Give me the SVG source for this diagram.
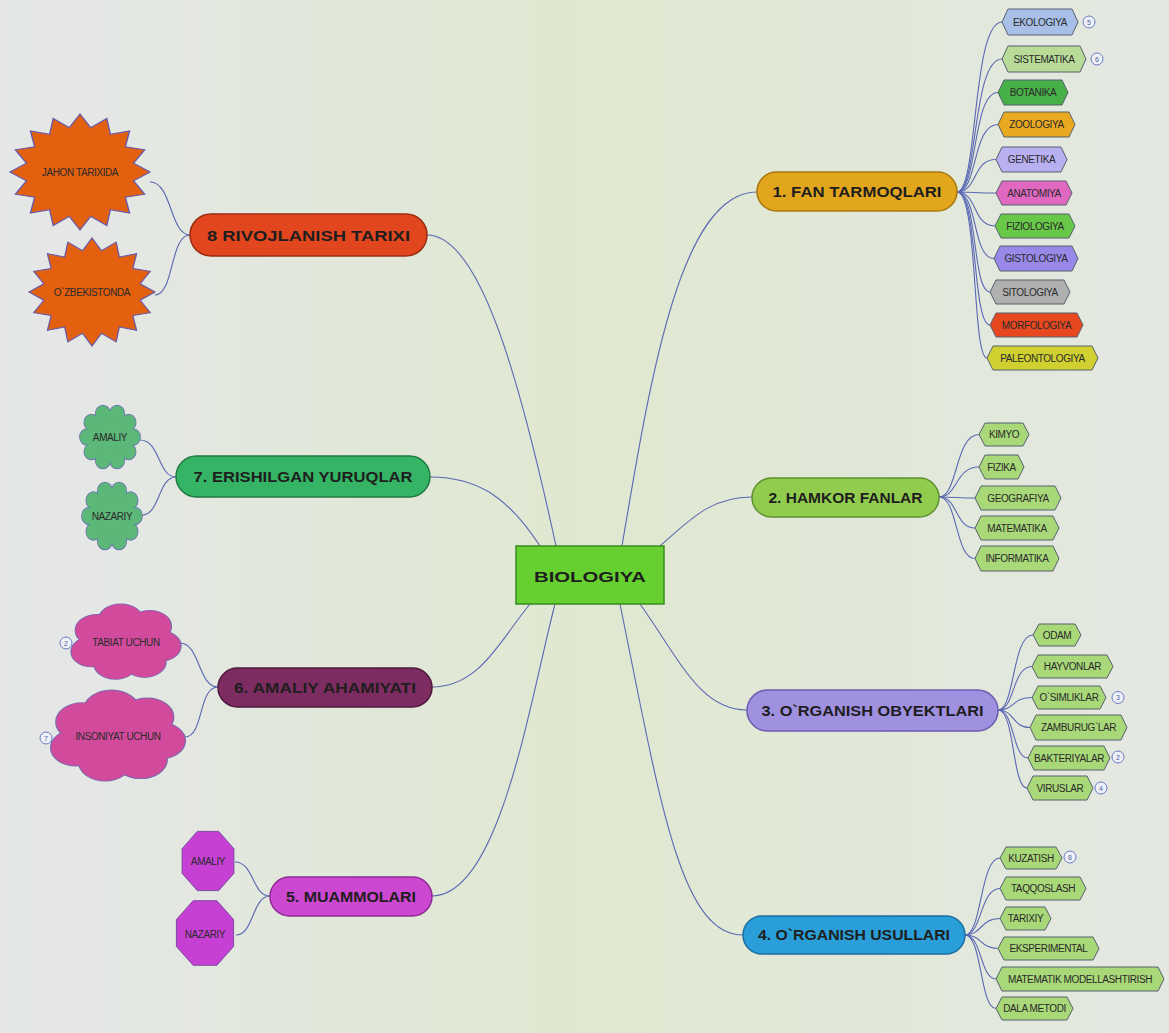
<svg xmlns="http://www.w3.org/2000/svg" xmlns:xlink="http://www.w3.org/1999/xlink" width="1169" height="1033" viewBox="0 0 1169 1033">
<defs>
<linearGradient id="bg" x1="0" y1="0" x2="1" y2="0">
<stop offset="0" stop-color="#e5e7e8"/>
<stop offset="0.5" stop-color="#e0e8d0"/>
<stop offset="1" stop-color="#e4e8e2"/>
</linearGradient>
<polygon id="star" points="100,0 76.5,15.2 92.4,38.3 64.8,43.4 70.7,70.7 43.4,64.8 38.3,92.4 15.2,76.5 0,100 -15.2,76.5 -38.3,92.4 -43.4,64.8 -70.7,70.7 -64.8,43.4 -92.4,38.3 -76.5,15.2 -100,0 -76.5,-15.2 -92.4,-38.3 -64.8,-43.4 -70.7,-70.7 -43.4,-64.8 -38.3,-92.4 -15.2,-76.5 0,-100 15.2,-76.5 38.3,-92.4 43.4,-64.8 70.7,-70.7 64.8,-43.4 92.4,-38.3 76.5,-15.2"/>
<g id="scal">
<circle cx="0" cy="0" r="80"/>
<circle cx="80" cy="0" r="25"/><circle cx="64.7" cy="47" r="25"/><circle cx="24.7" cy="76.1" r="25"/>
<circle cx="-24.7" cy="76.1" r="25"/><circle cx="-64.7" cy="47" r="25"/><circle cx="-80" cy="0" r="25"/>
<circle cx="-64.7" cy="-47" r="25"/><circle cx="-24.7" cy="-76.1" r="25"/><circle cx="24.7" cy="-76.1" r="25"/>
<circle cx="64.7" cy="-47" r="25"/>
</g>
<g id="cloud">
<circle cx="0" cy="0" r="60"/>
<circle cx="-55" cy="-30" r="40"/><circle cx="-10" cy="-55" r="42"/><circle cx="45" cy="-40" r="40"/>
<circle cx="65" cy="10" r="38"/><circle cx="35" cy="50" r="40"/><circle cx="-20" cy="55" r="40"/>
<circle cx="-65" cy="25" r="38"/>
</g>
</defs>
<style>
.con path{fill:none;stroke:#5a68b4;stroke-width:1.1}
.main rect{stroke-width:1.5}
.mt{font-family:"Liberation Sans",Arial,sans-serif;font-weight:bold;font-size:14px;fill:#1e1e1e;text-anchor:middle}
.leaf path{stroke:#56606e;stroke-width:1}
.lt{font-family:"Liberation Sans",Arial,sans-serif;font-size:10px;fill:#2a2a2a;text-anchor:middle;letter-spacing:-0.4px}
.g{fill:#a8d878}
.badge circle{fill:#eef0f8;stroke:#6a7ac8;stroke-width:1}
.bt{font-family:"Liberation Sans",Arial,sans-serif;font-size:7px;fill:#5060a0;text-anchor:middle}
.star{fill:#e2600e;stroke:#6a5aa8;stroke-width:2}
</style>
<rect x="0" y="0" width="1169" height="1033" fill="url(#bg)"/>

<g id="connectors" class="con">
<path d="M427,235 C480,235 520,380 556,546"/>
<path d="M430,477 C480,477 510,500 540,546"/>
<path d="M432,687 C480,687 500,640 530,604"/>
<path d="M432,896 C500,896 530,700 555,604"/>
<path d="M622,546 C650,380 680,192 757,192"/>
<path d="M660,546 C690,520 710,497 752,497"/>
<path d="M640,604 C680,660 700,710 747,710"/>
<path d="M620,604 C660,800 680,935 743,935"/>

<path d="M957,192 C978,192 972,22 1002,22"/>
<path d="M957,192 C978,192 972,59 1002,59"/>
<path d="M957,192 C978,192 972,92.5 998,92.5"/>
<path d="M957,192 C978,192 972,124.5 998,124.5"/>
<path d="M957,192 C978,192 972,159.5 996,159.5"/>
<path d="M957,192 C978,192 972,193 996,193"/>
<path d="M957,192 C978,192 972,226 995,226"/>
<path d="M957,192 C978,192 972,258.5 994,258.5"/>
<path d="M957,192 C978,192 972,292 990,292"/>
<path d="M957,192 C978,192 972,325 990,325"/>
<path d="M957,192 C978,192 972,358 987,358"/>

<path d="M939,497 C958,497 955,434.5 979,434.5"/>
<path d="M939,497 C958,497 955,467 979,467"/>
<path d="M939,497 C958,497 955,498 975,498"/>
<path d="M939,497 C958,497 955,528 975,528"/>
<path d="M939,497 C958,497 955,558.5 975,558.5"/>

<path d="M998,710 C1015,710 1012,635 1033,635"/>
<path d="M998,710 C1015,710 1012,666.5 1032,666.5"/>
<path d="M998,710 C1015,710 1012,697.5 1032,697.5"/>
<path d="M998,710 C1015,710 1012,727.5 1030,727.5"/>
<path d="M998,710 C1015,710 1012,758 1028,758"/>
<path d="M998,710 C1015,710 1012,788 1027,788"/>

<path d="M965,935 C982,935 980,858 1000,858"/>
<path d="M965,935 C982,935 980,888.5 1000,888.5"/>
<path d="M965,935 C982,935 980,918.5 1000,918.5"/>
<path d="M965,935 C982,935 980,948.5 998,948.5"/>
<path d="M965,935 C982,935 980,979 996,979"/>
<path d="M965,935 C982,935 980,1008.5 996,1008.5"/>

<path d="M190,235 C170,235 172,182 150,182"/>
<path d="M190,235 C170,235 174,295 155,295"/>
<path d="M176,477 C158,477 160,440 140,440"/>
<path d="M176,477 C158,477 160,515 142,515"/>
<path d="M218,687 C198,687 200,643 180,643"/>
<path d="M218,687 C198,687 204,737 185,737"/>
<path d="M270,896 C252,896 254,862 235,862"/>
<path d="M270,896 C252,896 254,935 236,935"/>
</g>

<g id="node-center">
<rect x="516" y="546" width="148" height="58" fill="#66d030" stroke="#3a8a20" stroke-width="1.5"/>
<text x="590" y="582" class="mt" font-size="18" textLength="112" lengthAdjust="spacingAndGlyphs">BIOLOGIYA</text>
</g>

<g id="node-1" class="main"><rect x="757" y="172" width="200" height="39" rx="19.5" fill="#e2a61c" stroke="#a87810"/><text x="857" y="197" class="mt" textLength="169" lengthAdjust="spacingAndGlyphs">1. FAN TARMOQLARI</text></g>
<g id="node-2" class="main"><rect x="752" y="478" width="187" height="39" rx="19.5" fill="#92cc4e" stroke="#5e9030"/><text x="845.5" y="503" class="mt" textLength="154" lengthAdjust="spacingAndGlyphs">2. HAMKOR FANLAR</text></g>
<g id="node-3" class="main"><rect x="747" y="690" width="251" height="41" rx="20.5" fill="#a090e0" stroke="#6a5cb0"/><text x="872.5" y="716" class="mt" textLength="222" lengthAdjust="spacingAndGlyphs">3. O`RGANISH OBYEKTLARI</text></g>
<g id="node-4" class="main"><rect x="743" y="916" width="222" height="38" rx="19" fill="#2a9ed8" stroke="#1a6ea0"/><text x="854" y="940" class="mt" textLength="192" lengthAdjust="spacingAndGlyphs">4. O`RGANISH USULLARI</text></g>
<g id="node-5" class="main"><rect x="270" y="877" width="162" height="39" rx="19.5" fill="#cc48d0" stroke="#8e2c94"/><text x="351" y="902" class="mt" textLength="130" lengthAdjust="spacingAndGlyphs">5. MUAMMOLARI</text></g>
<g id="node-6" class="main"><rect x="218" y="668" width="214" height="39" rx="19.5" fill="#7c2c60" stroke="#4e1a3c"/><text x="325" y="693" class="mt" textLength="182" lengthAdjust="spacingAndGlyphs">6. AMALIY AHAMIYATI</text></g>
<g id="node-7" class="main"><rect x="176" y="456" width="254" height="41" rx="20.5" fill="#34b464" stroke="#1e7a40"/><text x="303" y="482" class="mt" textLength="219" lengthAdjust="spacingAndGlyphs">7. ERISHILGAN YURUQLAR</text></g>
<g id="node-8" class="main"><rect x="190" y="214" width="237" height="42" rx="21" fill="#e2461e" stroke="#9a2c10"/><text x="308.5" y="241" class="mt" textLength="203" lengthAdjust="spacingAndGlyphs">8 RIVOJLANISH TARIXI</text></g>

<g id="leaves-1" class="leaf">
<g id="leaf-ekologiya"><path d="M1002,22 L1008,9 L1072,9 L1078,22 L1072,35 L1008,35Z" fill="#a8c0e8"/><text x="1040" y="25.5" class="lt">EKOLOGIYA</text></g>
<g id="leaf-sistematika"><path d="M1002,59 L1008,46 L1080,46 L1086,59 L1080,72 L1008,72Z" fill="#b8dc98"/><text x="1044" y="62.5" class="lt">SISTEMATIKA</text></g>
<g id="leaf-botanika"><path d="M998,92.5 L1004,80 L1062,80 L1068,92.5 L1062,105 L1004,105Z" fill="#48b048"/><text x="1033" y="96" class="lt">BOTANIKA</text></g>
<g id="leaf-zoologiya"><path d="M998,124.5 L1004,112 L1069,112 L1075,124.5 L1069,137 L1004,137Z" fill="#e8a820"/><text x="1036.5" y="128" class="lt">ZOOLOGIYA</text></g>
<g id="leaf-genetika"><path d="M996,159.5 L1002,147 L1061,147 L1067,159.5 L1061,172 L1002,172Z" fill="#b8b0f0"/><text x="1031.5" y="163" class="lt">GENETIKA</text></g>
<g id="leaf-anatomiya"><path d="M996,193 L1002,181 L1066,181 L1072,193 L1066,205 L1002,205Z" fill="#e068c0"/><text x="1034" y="196.5" class="lt">ANATOMIYA</text></g>
<g id="leaf-fiziologiya"><path d="M995,226 L1001,214 L1069,214 L1075,226 L1069,238 L1001,238Z" fill="#68c848"/><text x="1035" y="229.5" class="lt">FIZIOLOGIYA</text></g>
<g id="leaf-gistologiya"><path d="M994,258.5 L1000,246 L1072,246 L1078,258.5 L1072,271 L1000,271Z" fill="#9888e8"/><text x="1036" y="262" class="lt">GISTOLOGIYA</text></g>
<g id="leaf-sitologiya"><path d="M990,292 L996,280 L1064,280 L1070,292 L1064,304 L996,304Z" fill="#b0b0b0"/><text x="1030" y="295.5" class="lt">SITOLOGIYA</text></g>
<g id="leaf-morfologiya"><path d="M990,325 L996,313 L1077,313 L1083,325 L1077,337 L996,337Z" fill="#e84820"/><text x="1036.5" y="328.5" class="lt">MORFOLOGIYA</text></g>
<g id="leaf-paleontologiya"><path d="M987,358 L993,346 L1092,346 L1098,358 L1092,370 L993,370Z" fill="#d0d030"/><text x="1042.5" y="361.5" class="lt">PALEONTOLOGIYA</text></g>
</g>

<g id="leaves-2" class="leaf">
<g id="leaf-kimyo"><path class="g" d="M979,434.5 L985,423 L1023,423 L1029,434.5 L1023,446 L985,446Z"/><text x="1004" y="438" class="lt">KIMYO</text></g>
<g id="leaf-fizika"><path class="g" d="M979,467 L985,455 L1018,455 L1024,467 L1018,479 L985,479Z"/><text x="1001.5" y="470.5" class="lt">FIZIKA</text></g>
<g id="leaf-geografiya"><path class="g" d="M975,498 L981,486 L1055,486 L1061,498 L1055,510 L981,510Z"/><text x="1018" y="501.5" class="lt">GEOGRAFIYA</text></g>
<g id="leaf-matematika"><path class="g" d="M975,528 L981,516 L1053,516 L1059,528 L1053,540 L981,540Z"/><text x="1017" y="531.5" class="lt">MATEMATIKA</text></g>
<g id="leaf-informatika"><path class="g" d="M975,558.5 L981,546 L1053,546 L1059,558.5 L1053,571 L981,571Z"/><text x="1017" y="562" class="lt">INFORMATIKA</text></g>
</g>

<g id="leaves-3" class="leaf">
<g id="leaf-odam"><path class="g" d="M1033,635 L1039,624 L1075,624 L1081,635 L1075,646 L1039,646Z"/><text x="1057" y="638.5" class="lt">ODAM</text></g>
<g id="leaf-hayvonlar"><path class="g" d="M1032,666.5 L1038,655 L1107,655 L1113,666.5 L1107,678 L1038,678Z"/><text x="1072.5" y="670" class="lt">HAYVONLAR</text></g>
<g id="leaf-osimliklar"><path class="g" d="M1032,697.5 L1038,686 L1100,686 L1106,697.5 L1100,709 L1038,709Z"/><text x="1069" y="701" class="lt">O`SIMLIKLAR</text></g>
<g id="leaf-zamburuglar"><path class="g" d="M1030,727.5 L1036,715 L1121,715 L1127,727.5 L1121,740 L1036,740Z"/><text x="1078.5" y="731" class="lt">ZAMBURUG`LAR</text></g>
<g id="leaf-bakteriyalar"><path class="g" d="M1028,758 L1034,746 L1104,746 L1110,758 L1104,770 L1034,770Z"/><text x="1069" y="761.5" class="lt">BAKTERIYALAR</text></g>
<g id="leaf-viruslar"><path class="g" d="M1027,788 L1033,776 L1087,776 L1093,788 L1087,800 L1033,800Z"/><text x="1060" y="791.5" class="lt">VIRUSLAR</text></g>
</g>

<g id="leaves-4" class="leaf">
<g id="leaf-kuzatish"><path class="g" d="M1000,858 L1006,847 L1056,847 L1062,858 L1056,869 L1006,869Z"/><text x="1031" y="861.5" class="lt">KUZATISH</text></g>
<g id="leaf-taqqoslash"><path class="g" d="M1000,888.5 L1006,877 L1080,877 L1086,888.5 L1080,900 L1006,900Z"/><text x="1043" y="892" class="lt">TAQQOSLASH</text></g>
<g id="leaf-tarixiy"><path class="g" d="M1000,918.5 L1006,907 L1045,907 L1051,918.5 L1045,930 L1006,930Z"/><text x="1025.5" y="922" class="lt">TARIXIY</text></g>
<g id="leaf-eksperimental"><path class="g" d="M998,948.5 L1004,937 L1093,937 L1099,948.5 L1093,960 L1004,960Z"/><text x="1048.5" y="952" class="lt">EKSPERIMENTAL</text></g>
<g id="leaf-modellashtirish"><path class="g" d="M996,979 L1002,967 L1158,967 L1164,979 L1158,991 L1002,991Z"/><text x="1080" y="982.5" class="lt">MATEMATIK MODELLASHTIRISH</text></g>
<g id="leaf-dala"><path class="g" d="M996,1008.5 L1002,997 L1067,997 L1073,1008.5 L1067,1020 L1002,1020Z"/><text x="1034.5" y="1012" class="lt">DALA METODI</text></g>
</g>

<g id="badges" class="badge">
<circle cx="1089" cy="22" r="6"/><text x="1089" y="24.5" class="bt">5</text>
<circle cx="1097" cy="59" r="6"/><text x="1097" y="61.5" class="bt">6</text>
<circle cx="1118" cy="697.5" r="6"/><text x="1118" y="700" class="bt">3</text>
<circle cx="1118" cy="757" r="6"/><text x="1118" y="759.5" class="bt">2</text>
<circle cx="1101" cy="788" r="6"/><text x="1101" y="790.5" class="bt">4</text>
<circle cx="1070" cy="857" r="6"/><text x="1070" y="859.5" class="bt">8</text>
<circle cx="66" cy="643" r="6"/><text x="66" y="645.5" class="bt">2</text>
<circle cx="46" cy="738" r="6"/><text x="46" y="740.5" class="bt">7</text>
</g>

<g id="leaf-jahon">
<use xlink:href="#star" href="#star" class="star" transform="translate(80,172) scale(0.70,0.58)"/>
<text x="80" y="175.5" class="lt">JAHON TARIXIDA</text>
</g>
<g id="leaf-ozbekistonda">
<use xlink:href="#star" href="#star" class="star" transform="translate(92,292) scale(0.63,0.54)"/>
<text x="92" y="296" class="lt">O`ZBEKISTONDA</text>
</g>

<g id="leaf-amaliy-7">
<use xlink:href="#scal" href="#scal" fill="#5cb878" stroke="#6a78b0" stroke-width="6" transform="translate(110,437) scale(0.286,0.31)"/>
<use xlink:href="#scal" href="#scal" fill="#5cb878" transform="translate(110,437) scale(0.286,0.31)"/>
<text x="110" y="440.5" class="lt">AMALIY</text>
</g>
<g id="leaf-nazariy-7">
<use xlink:href="#scal" href="#scal" fill="#5cb878" stroke="#6a78b0" stroke-width="6" transform="translate(112,516) scale(0.286,0.33)"/>
<use xlink:href="#scal" href="#scal" fill="#5cb878" transform="translate(112,516) scale(0.286,0.33)"/>
<text x="112" y="519.5" class="lt">NAZARIY</text>
</g>

<g id="leaf-tabiat">
<use xlink:href="#cloud" href="#cloud" fill="#d24a9c" stroke="#7a6ab0" stroke-width="4" transform="translate(126,642) scale(0.53,0.39)"/>
<use xlink:href="#cloud" href="#cloud" fill="#d24a9c" transform="translate(126,642) scale(0.53,0.39)"/>
<text x="126" y="645.5" class="lt">TABIAT UCHUN</text>
</g>
<g id="leaf-insoniyat">
<use xlink:href="#cloud" href="#cloud" fill="#d24a9c" stroke="#7a6ab0" stroke-width="3.5" transform="translate(118,736) scale(0.65,0.47)"/>
<use xlink:href="#cloud" href="#cloud" fill="#d24a9c" transform="translate(118,736) scale(0.65,0.47)"/>
<text x="118" y="740" class="lt">INSONIYAT UCHUN</text>
</g>

<g id="leaf-amaliy-5">
<polygon points="233.9,848.7 218.7,831.4 197.3,831.4 182.1,848.7 182.1,873.3 197.3,890.6 218.7,890.6 233.9,873.3" fill="#c640d4" stroke="#7a4aa0" stroke-width="1"/>
<text x="208" y="864.5" class="lt">AMALIY</text>
</g>
<g id="leaf-nazariy-5">
<polygon points="233.6,919.6 216.9,900.7 193.1,900.7 176.4,919.6 176.4,946.4 193.1,965.3 216.9,965.3 233.6,946.4" fill="#c640d4" stroke="#7a4aa0" stroke-width="1"/>
<text x="205" y="937.5" class="lt">NAZARIY</text>
</g>
</svg>
